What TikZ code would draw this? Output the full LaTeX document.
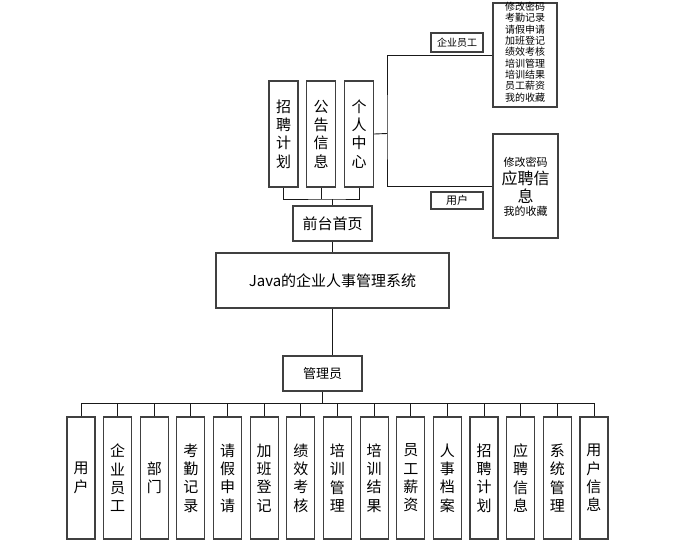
\documentclass[tikz,border=0pt]{standalone}
\usepackage{fontspec}
\setmainfont{Noto Sans CJK SC}
\usetikzlibrary{calc}

\tikzset{
  box/.style={draw=black!75, line width=1.1pt, inner sep=0pt, align=center, fill=white},
  link/.style={draw=black!90, line width=0.9pt},
  vtext/.style={font=\fontsize{15}{18.3}\selectfont},
}

\begin{document}
\begin{tikzpicture}[x=1pt, y=-1pt]
      \useasboundingbox [fill=white] (0,0) rectangle (682,547);
      % front part
      \node [box, vtext, minimum width=29pt, minimum height=106pt] (plan) at (283.5,134) {招\\聘\\计\\划};
      \node [box, vtext, minimum width=29pt, minimum height=106pt] (notice) at (321,134) {公\\告\\信\\息};
      \node [box, vtext, minimum width=29pt, minimum height=106pt] (center) at (359,134) {个\\人\\中\\心};
      \node [box, font=\fontsize{15}{18}\selectfont, minimum width=79pt, minimum height=35pt] (front) at (332.5,223.5) {前台首页};
      \coordinate (fbus) at (332.5,199);
      \draw [link] (plan.south) |- (fbus) -| (center.south);
      \draw [link] (notice.south) -- (notice.south |- fbus);
      \draw [link] (fbus) -- (front.north);
      % personal center menus
      \node [box, minimum width=64pt, minimum height=104pt] (staffmenu) at (525,55) {};
      \node [align=center, font=\fontsize{10}{11.3}\selectfont] at (525,52) {修改密码\\考勤记录\\请假申请\\加班登记\\绩效考核\\培训管理\\培训结果\\员工薪资\\我的收藏};
      \node [box, font=\fontsize{10}{12}\selectfont, minimum width=52pt, minimum height=19pt] (staffl) at (457,42.5) {企业员工};
      \node [box, minimum width=65pt, minimum height=104pt] (usermenu) at (525.5,186) {};
      \node [font=\fontsize{11}{13}\selectfont] at (525.5,162) {修改密码};
      \node [font=\fontsize{16}{18}\selectfont] at (525.5,178) {应聘信};
      \node [font=\fontsize{16}{18}\selectfont] at (525.5,196) {息};
      \node [font=\fontsize{11}{13}\selectfont] at (525.5,211) {我的收藏};
      \node [box, font=\fontsize{11}{12}\selectfont, minimum width=52pt, minimum height=17pt] (userl) at (457,200.5) {用户};
      \coordinate (pbr) at (387,133.5);
      \draw [link] (center.east) -- (pbr);
      \draw [link] (staffmenu.west) -| (pbr) |- (usermenu.west);
      % system
      \node [box, font=\fontsize{15}{18}\selectfont, minimum width=233pt, minimum height=55pt] (sys) at (332.5,280.5) {Java的企业人事管理系统};
      \draw [link] (front.south) -- (sys.north);
      \node [box, font=\fontsize{13}{15}\selectfont, minimum width=79pt, minimum height=35pt] (admin) at (322.5,373.5) {管理员};
      \draw [link] (sys.south) -- (sys.south |- admin.north);
      % admin part
      \coordinate (bus) at (322.5,403);
      \foreach \t [count=\i from 0] in {用\\户, 企\\业\\员\\工, 部\\门, 考\\勤\\记\\录, 请\\假\\申\\请, 加\\班\\登\\记, 绩\\效\\考\\核, 培\\训\\管\\理, 培\\训\\结\\果, 员\\工\\薪\\资, 人\\事\\档\\案, 招\\聘\\计\\划, 应\\聘\\信\\息, 系\\统\\管\\理, 用\\户\\信\\息} {
        \node [box, vtext, minimum width=28pt, minimum height=122pt] (m\i) at ({81+36.64*\i},478) {\t};
        \draw [link] (m\i.north) -- (m\i.north |- bus);
      }
      \draw [link] (m0.north |- bus) -- (m14.north |- bus);
      \draw [link] (admin.south) -- (bus);
    \end{tikzpicture}
\end{document}
